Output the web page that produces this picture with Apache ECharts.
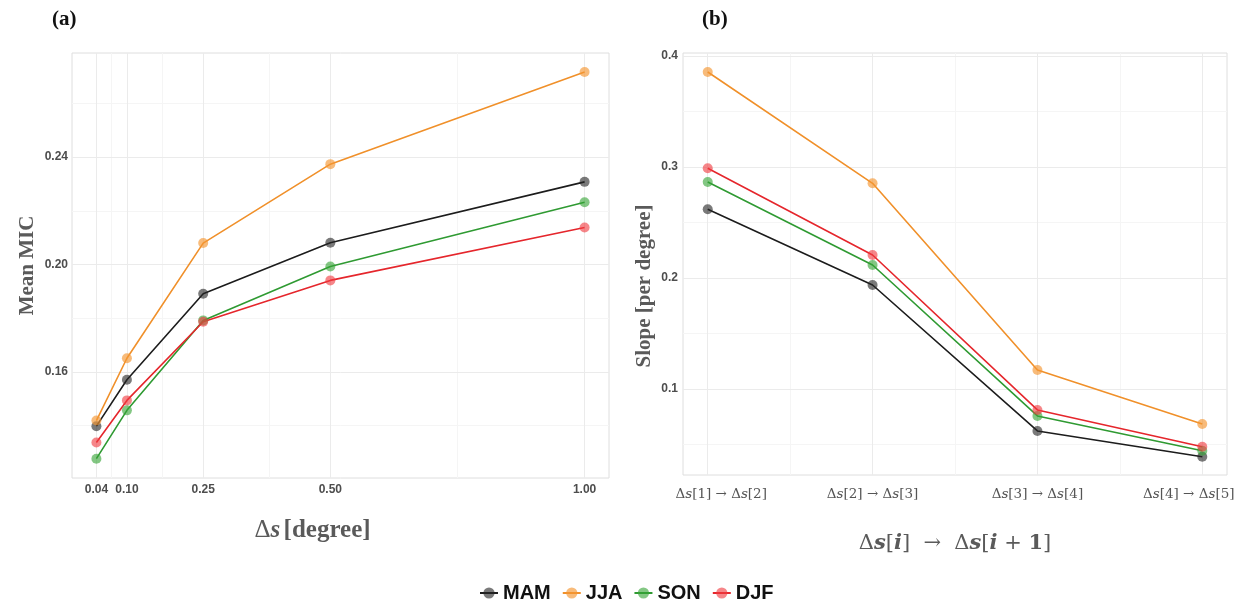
<!DOCTYPE html>
<html>
<head>
<meta charset="utf-8">
<script src="https://cdn.jsdelivr.net/npm/echarts@6/dist/echarts.min.js"></script>
<style>
  html, body { margin: 0; padding: 0; background: #fff; }
  #chart { width: 1246px; height: 605px; }
</style>
</head>
<body>
<div id="chart"></div>
<script>
// Panel (a): mean MIC against grid spacing Δs (degree)
const spacing = [0.04, 0.10, 0.25, 0.50, 1.00];
const spacingTicks = ['0.04', '0.10', '0.25', '0.50', '1.00'];
const micMAM = [0.1398, 0.1571, 0.1891, 0.2081, 0.2308];
const micJJA = [0.1419, 0.1651, 0.2080, 0.2374, 0.2717];
const micSON = [0.1277, 0.1457, 0.1792, 0.1993, 0.2232];
const micDJF = [0.1337, 0.1494, 0.1787, 0.1941, 0.2138];
const micTicks = [0.16, 0.20, 0.24];
const micMinor = [0.14, 0.18, 0.22, 0.26];
const spacingMinor = [0.07, 0.175, 0.375, 0.75];

// Panel (b): slope between consecutive spacings (per degree)
const steps = [1, 2, 3, 4];
const stepTicks = [['1', '2'], ['2', '3'], ['3', '4'], ['4', '5']];
const slopeMAM = [0.2619, 0.1937, 0.0622, 0.0390];
const slopeJJA = [0.3856, 0.2853, 0.1171, 0.0685];
const slopeSON = [0.2865, 0.2117, 0.0757, 0.0444];
const slopeDJF = [0.2988, 0.2207, 0.0811, 0.0480];
const slopeTicks = [0.1, 0.2, 0.3, 0.4];
const slopeMinor = [0.05, 0.15, 0.25, 0.35];
const stepMinor = [1.5, 2.5, 3.5];

const seasons = ['MAM', 'JJA', 'SON', 'DJF'];
const lineColors = { MAM: '#1c1c1c', JJA: '#f0902a', SON: '#2f9a32', DJF: '#e5262c' };
const dotColors = {
  MAM: 'rgba(40,40,40,0.62)',
  JJA: 'rgba(245,150,50,0.65)',
  SON: 'rgba(55,165,55,0.62)',
  DJF: 'rgba(240,60,65,0.62)'
};

const micData = { MAM: micMAM, JJA: micJJA, SON: micSON, DJF: micDJF };
const slopeData = { MAM: slopeMAM, JJA: slopeJJA, SON: slopeSON, DJF: slopeDJF };

const zip = (xs, ys) => xs.map((x, i) => [x, ys[i]]);

const GRID_MAJOR = '#ebebeb';
const GRID_MINOR = '#f5f5f5';
const TICK_TXT = '#4d4d4d';
const TITLE_TXT = '#5a5a5a';

// gridlines drawn as mark lines so they can sit at irregular break positions
function gridLines(xIdx, xMajor, xMinor, yMajor, yMinor) {
  const mk = (axis, v, color) => ({ [axis]: v, lineStyle: { color: color, width: 1, type: 'solid' } });
  return {
    type: 'line',
    xAxisIndex: xIdx,
    yAxisIndex: xIdx,
    data: [],
    silent: true,
    z: 0,
    markLine: {
      silent: true,
      z: 0,
      symbol: ['none', 'none'],
      label: { show: false },
      emphasis: { disabled: true },
      animation: false,
      data: [
        ...xMinor.map(v => mk('xAxis', v, GRID_MINOR)),
        ...yMinor.map(v => mk('yAxis', v, GRID_MINOR)),
        ...xMajor.map(v => mk('xAxis', v, GRID_MAJOR)),
        ...yMajor.map(v => mk('yAxis', v, GRID_MAJOR))
      ]
    }
  };
}

function seasonSeries(idx, xs, source) {
  return seasons.map(s => ({
    name: s,
    type: 'line',
    xAxisIndex: idx,
    yAxisIndex: idx,
    data: zip(xs, source[s]),
    symbol: 'circle',
    symbolSize: 10,
    z: 10,
    lineStyle: { color: lineColors[s], width: 1.6 },
    itemStyle: { color: dotColors[s], borderWidth: 0 },
    emphasis: { disabled: true },
    animation: false
  }));
}

const tickFont = { color: TICK_TXT, fontFamily: 'Liberation Sans, Arial, sans-serif', fontWeight: 'bold', fontSize: 12 };
const mathRich = {
  n: { fontFamily: 'DejaVu Serif, serif', fontSize: 13.5, color: '#555' },
  i: { fontFamily: 'DejaVu Serif, serif', fontStyle: 'italic', fontSize: 13.5, color: '#555' },
  gap: { width: 27, fontSize: 13.5 }
};

// end labels are nudged inward so they stay within the canvas
function stepLabel(v) {
  const k = steps.indexOf(v);
  const t = stepTicks[k];
  if (!t) return '';
  const body = `{n|Δ}{i|s}{n|[${t[0]}] → Δ}{i|s}{n|[${t[1]}]}`;
  if (k === 0) return '{gap| }' + body;
  if (k === steps.length - 1) return body + '{gap| }';
  return body;
}

const chart = echarts.init(document.getElementById('chart'), null, { renderer: 'canvas' });

chart.setOption({
  backgroundColor: '#ffffff',
  animation: false,
  title: [
    { text: '(a)', left: 47, top: 4, textStyle: { fontFamily: 'Liberation Serif, serif', fontWeight: 'bold', fontSize: 21, color: '#111' } },
    { text: '(b)', left: 697, top: 4, textStyle: { fontFamily: 'Liberation Serif, serif', fontWeight: 'bold', fontSize: 21, color: '#111' } }
  ],
  legend: {
    data: seasons,
    left: 474,
    top: 578,
    itemWidth: 18,
    itemHeight: 14,
    itemGap: 11,
    textStyle: { fontFamily: 'Liberation Sans, Arial, sans-serif', fontWeight: 'bold', fontSize: 20, color: '#111' }
  },
  grid: [
    { left: 72, top: 53, width: 537, height: 425, show: true, borderColor: '#dedede', borderWidth: 1, backgroundColor: '#fff', containLabel: false, outerBoundsMode: 'none' },
    { left: 683, top: 53, width: 544, height: 422, show: true, borderColor: '#dedede', borderWidth: 1, backgroundColor: '#fff', containLabel: false, outerBoundsMode: 'none' }
  ],
  xAxis: [
    {
      type: 'value', gridIndex: 0, min: -0.008, max: 1.048,
      axisLine: { show: false }, axisTick: { show: false }, splitLine: { show: false },
      axisLabel: {
        customValues: spacing,
        margin: 6,
        ...tickFont,
        formatter: v => spacingTicks[spacing.indexOf(v)] ?? ''
      },
      name: '{d|Δ}{s|s} {t|[degree]}',
      nameLocation: 'middle',
      nameGap: 40,
      nameTextStyle: {
        padding: [0, 56, 0, 0],
        rich: {
          d: { fontFamily: 'Liberation Serif, serif', fontSize: 25, color: TITLE_TXT },
          s: { fontFamily: 'Liberation Serif, serif', fontStyle: 'italic', fontWeight: 'bold', fontSize: 25, color: TITLE_TXT },
          t: { fontFamily: 'Liberation Serif, serif', fontWeight: 'bold', fontSize: 25, color: TITLE_TXT }
        }
      }
    },
    {
      type: 'value', gridIndex: 1, min: 0.85, max: 4.15,
      axisLine: { show: false }, axisTick: { show: false }, splitLine: { show: false },
      axisLabel: {
        customValues: steps,
        margin: 12,
        formatter: stepLabel,
        rich: mathRich
      },
      name: '{n|Δ}{i|s}{n|[}{i|i}{n|]  →  Δ}{i|s}{n|[}{i|i}{n| + }{b|1}{n|]}',
      nameLocation: 'middle',
      nameGap: 58,
      nameTextStyle: {
        rich: {
          n: { fontFamily: 'DejaVu Serif, serif', fontSize: 21, color: TITLE_TXT },
          i: { fontFamily: 'DejaVu Serif, serif', fontStyle: 'italic', fontWeight: 'bold', fontSize: 21, color: TITLE_TXT },
          b: { fontFamily: 'DejaVu Serif, serif', fontWeight: 'bold', fontSize: 21, color: TITLE_TXT }
        }
      }
    }
  ],
  yAxis: [
    {
      type: 'value', gridIndex: 0, min: 0.1205, max: 0.2788,
      axisLine: { show: false }, axisTick: { show: false }, splitLine: { show: false },
      axisLabel: {
        customValues: micTicks,
        margin: 4,
        ...tickFont,
        formatter: v => v.toFixed(2)
      },
      name: 'Mean MIC',
      nameLocation: 'middle',
      nameRotate: 90,
      nameGap: 34,
      nameTextStyle: { fontFamily: 'Liberation Serif, serif', fontWeight: 'bold', fontSize: 21, color: TITLE_TXT }
    },
    {
      type: 'value', gridIndex: 1, min: 0.0225, max: 0.4027,
      axisLine: { show: false }, axisTick: { show: false }, splitLine: { show: false },
      axisLabel: {
        customValues: slopeTicks,
        margin: 5,
        ...tickFont,
        formatter: v => v.toFixed(1)
      },
      name: 'Slope [per degree]',
      nameLocation: 'middle',
      nameRotate: 90,
      nameGap: 28,
      nameTextStyle: {
        fontFamily: 'Liberation Serif, serif', fontWeight: 'bold', fontSize: 21, color: TITLE_TXT,
        padding: [0, 44, 0, 0]
      }
    }
  ],
  series: [
    gridLines(0, spacing, spacingMinor, micTicks, micMinor),
    gridLines(1, steps, stepMinor, slopeTicks, slopeMinor),
    ...seasonSeries(0, spacing, micData),
    ...seasonSeries(1, steps, slopeData)
  ]
});
</script>
</body>
</html>
